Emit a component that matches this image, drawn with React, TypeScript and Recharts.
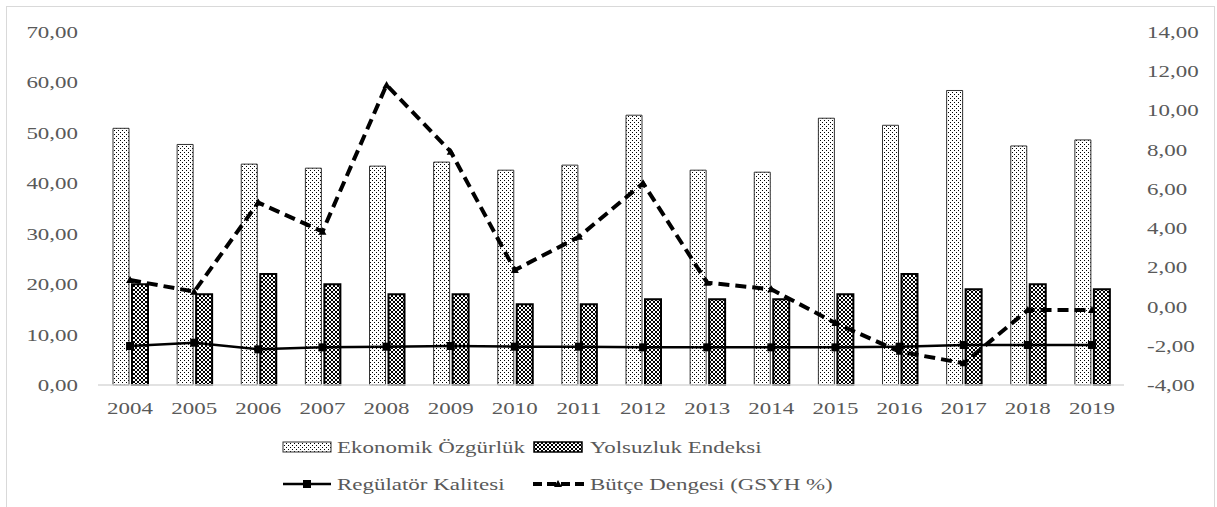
import { ComposedChart, Bar, Line, XAxis, YAxis } from 'recharts';

const years = ['2004', '2005', '2006', '2007', '2008', '2009', '2010', '2011', '2012', '2013', '2014', '2015', '2016', '2017', '2018', '2019'];
const ekonomikOzgurluk = [50.9, 47.7, 43.8, 43.0, 43.4, 44.2, 42.6, 43.6, 53.5, 42.6, 42.2, 52.9, 51.5, 58.4, 47.4, 48.6];
const yolsuzlukEndeksi = [20, 18, 22, 20, 18, 18, 16, 16, 17, 17, 17, 18, 22, 19, 20, 19];
const regulatorKalitesi = [7.73, 8.39, 7.07, 7.47, 7.6, 7.73, 7.6, 7.6, 7.47, 7.47, 7.47, 7.47, 7.6, 7.93, 7.93, 7.93];
const butceDengesi = [1.35, 0.76, 5.3, 3.82, 11.3, 7.9, 1.86, 3.56, 6.29, 1.22, 0.88, -0.84, -2.3, -2.89, -0.18, -0.18];
const leftTicks = [0, 10, 20, 30, 40, 50, 60, 70];
const rightTicks = [-4, -2, 0, 2, 4, 6, 8, 10, 12, 14];

const data = years.map((year, i) => ({
  year,
  ekonomik: ekonomikOzgurluk[i],
  yolsuzluk: yolsuzlukEndeksi[i],
  regulator: regulatorKalitesi[i],
  butce: butceDengesi[i],
}));

const FONT = 'Liberation Serif, DejaVu Serif, serif';
const TEXT = '#595959';
const STRETCH = 1.35;

const fmt = (v: number) => v.toFixed(2).replace('.', ',');

// text in this chart is drawn wide, so every label is stretched horizontally
const Label = ({ x, y, anchor, children }: any) => (
  <g transform={`translate(${x},${y}) scale(${STRETCH},1)`}>
    <text x={0} y={0} textAnchor={anchor} fill={TEXT} fontSize={17} style={{ fontFamily: FONT }}>
      {children}
    </text>
  </g>
);

const LeftTick = ({ x, y, payload }: any) => (
  <Label x={x - 12} y={y + 6} anchor="end">{fmt(payload.value)}</Label>
);
const RightTick = ({ x, y, payload }: any) => (
  <Label x={x + 15} y={y + 6} anchor="start">{fmt(payload.value)}</Label>
);
const YearTick = ({ x, y, payload }: any) => (
  <Label x={x} y={y + 21} anchor="middle">{payload.value}</Label>
);

const SquareDot = ({ cx, cy, index }: any) => (
  <rect key={`sq-${index}`} x={cx - 4} y={cy - 4} width={8} height={8} fill="#000" />
);
const TriangleDot = ({ cx, cy, index }: any) => (
  <path key={`tr-${index}`} d={`M${cx - 4},${cy + 3} L${cx},${cy - 4} L${cx + 4},${cy + 3} Z`} fill="#000" />
);

const Patterns = () => (
  <defs>
    <pattern id="dots" width="4" height="4" patternUnits="userSpaceOnUse">
      <rect width="4" height="4" fill="#fff" />
      <rect x="0" y="0" width="1" height="1" fill="#000" />
      <rect x="2" y="2" width="1" height="1" fill="#000" />
    </pattern>
    <pattern id="mesh" width="4" height="4" patternUnits="userSpaceOnUse">
      <rect width="4" height="4" fill="#fff" />
      <path d="M0,0 L4,4 M4,0 L0,4" stroke="#000" strokeWidth={1} />
    </pattern>
  </defs>
);

const LegendBlock = () => (
  <svg width={1217} height={80} style={{ position: 'absolute', left: 0, top: 425 }}>
    <Patterns />
    <rect x={283} y={17} width={48} height={10} fill="url(#dots)" stroke="#333" strokeWidth={1} />
    <Label x={337} y={28} anchor="start">Ekonomik Özgürlük</Label>
    <rect x={534} y={17} width={48} height={10} fill="url(#mesh)" stroke="#000" strokeWidth={1.5} />
    <Label x={590} y={28} anchor="start">Yolsuzluk Endeksi</Label>
    <line x1={283} y1={59} x2={331} y2={59} stroke="#000" strokeWidth={2.5} />
    <rect x={303} y={55} width={8} height={8} fill="#000" />
    <Label x={337} y={65} anchor="start">Regülatör Kalitesi</Label>
    <line x1={533} y1={59} x2={584} y2={59} stroke="#000" strokeWidth={4} strokeDasharray="9 5" />
    <path d="M554,62 L558,55 L562,62 Z" fill="#000" />
    <Label x={590} y={65} anchor="start">Bütçe Dengesi (GSYH %)</Label>
  </svg>
);

export default function App() {
  return (
    <div style={{ position: 'absolute', left: 0, top: 0, width: 1217, height: 507, overflow: 'hidden', background: '#fff' }}>
      <div
        style={{
          position: 'absolute',
          left: 6,
          top: 6,
          width: 1207,
          height: 520,
          borderTop: '1.5px solid #d9d9d9',
          borderLeft: '1.5px solid #d9d9d9',
          borderRight: '1.5px solid #d9d9d9',
        }}
      />
      <div style={{ position: 'absolute', left: 0, top: 0 }}>
        <ComposedChart
          width={1217}
          height={507}
          data={data}
          margin={{ top: 32, right: 0, left: 0, bottom: 92 }}
          barCategoryGap={15}
          barGap={3}
        >
          <Patterns />
          <XAxis
            dataKey="year"
            height={30}
            axisLine={{ stroke: '#d9d9d9', strokeWidth: 1.5 }}
            tickLine={false}
            tick={<YearTick />}
            interval={0}
          />
          <YAxis
            yAxisId="left"
            width={98}
            domain={[0, 70]}
            ticks={leftTicks}
            axisLine={false}
            tickLine={false}
            tick={<LeftTick />}
            interval={0}
          />
          <YAxis
            yAxisId="right"
            orientation="right"
            width={93}
            domain={[-4, 14]}
            ticks={rightTicks}
            axisLine={false}
            tickLine={false}
            tick={<RightTick />}
            interval={0}
          />
          <Bar yAxisId="left" dataKey="ekonomik" name="Ekonomik Özgürlük" fill="url(#dots)" stroke="#333" strokeWidth={1} isAnimationActive={false} />
          <Bar yAxisId="left" dataKey="yolsuzluk" name="Yolsuzluk Endeksi" fill="url(#mesh)" stroke="#000" strokeWidth={2} isAnimationActive={false} />
          <Line
            yAxisId="left"
            type="linear"
            dataKey="regulator"
            name="Regülatör Kalitesi"
            stroke="#000"
            strokeWidth={2.5}
            dot={SquareDot}
            activeDot={false}
            isAnimationActive={false}
          />
          <Line
            yAxisId="right"
            type="linear"
            dataKey="butce"
            name="Bütçe Dengesi (GSYH %)"
            stroke="#000"
            strokeWidth={4}
            strokeDasharray="11 6"
            dot={TriangleDot}
            activeDot={false}
            isAnimationActive={false}
          />
        </ComposedChart>
      </div>
      <LegendBlock />
    </div>
  );
}
